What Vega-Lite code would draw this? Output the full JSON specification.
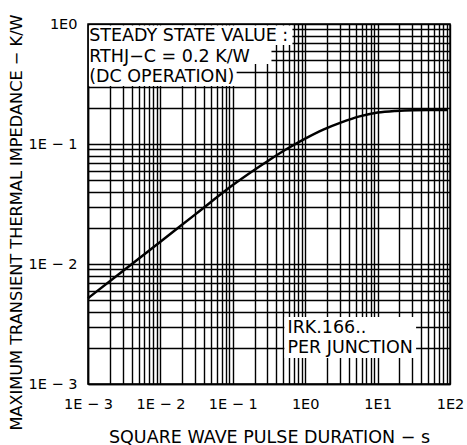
{
  "$schema": "https://vega.github.io/schema/vega-lite/v6.json",
  "width": 362,
  "height": 360,
  "autosize": "none",
  "padding": {"left": 88, "top": 24, "right": 17, "bottom": 61},
  "background": "white",
  "config": {
    "view": {"stroke": "black", "strokeWidth": 1.5},
    "font": "DejaVu Sans",
    "axis": {
      "labelFont": "DejaVu Sans",
      "titleFont": "DejaVu Sans",
      "labelColor": "black",
      "titleColor": "black",
      "titleFontWeight": "normal",
      "ticks": false,
      "domainColor": "black",
      "domainWidth": 1.5,
      "gridColor": "black",
      "gridOpacity": 1,
      "gridWidth": 1.4,
      "labelOverlap": false,
      "labelBound": false,
      "labelFlush": false
    }
  },
  "datasets": {
    "curve": [
      {"x": 0.001, "y": 0.005188},
      {"x": 0.003162, "y": 0.008913},
      {"x": 0.01, "y": 0.01535},
      {"x": 0.03162, "y": 0.02642},
      {"x": 0.1, "y": 0.0455},
      {"x": 0.3162, "y": 0.07328},
      {"x": 0.5623, "y": 0.0912},
      {"x": 1, "y": 0.1109},
      {"x": 1.778, "y": 0.1318},
      {"x": 3.162, "y": 0.1514},
      {"x": 5.623, "y": 0.1698},
      {"x": 10, "y": 0.1828},
      {"x": 17.78, "y": 0.1888},
      {"x": 31.62, "y": 0.1914},
      {"x": 91, "y": 0.1923}
    ],
    "boxes": [
      {"x": 0.00103, "x2": 0.667, "y": 0.97, "y2": 0.668},
      {"x": 0.00103, "x2": 0.342, "y": 0.668, "y2": 0.464},
      {"x": 0.00103, "x2": 0.113, "y": 0.464, "y2": 0.304},
      {"x": 0.516, "x2": 34.0, "y": 0.00361, "y2": 0.00165}
    ],
    "notes": [
      {"x": 0.00104, "y": 0.721, "label": "STEADY STATE VALUE :"},
      {"x": 0.00104, "y": 0.482, "label": "RTHJ−C = 0.2 K/W"},
      {"x": 0.00104, "y": 0.329, "label": "(DC OPERATION)"},
      {"x": 0.569, "y": 0.00266, "label": "IRK.166.."},
      {"x": 0.569, "y": 0.00181, "label": "PER JUNCTION"}
    ]
  },
  "encoding": {
    "x": {
      "field": "x",
      "type": "quantitative",
      "scale": {"type": "log", "domain": [0.001, 100], "nice": false},
      "axis": {
        "title": "SQUARE WAVE PULSE DURATION − s",
        "titleFontSize": 17.5,
        "titleBaseline": "middle",
        "titleY": 53,
        "labelFontSize": 14.5,
        "labelPadding": 13,
        "values": [0.001,0.002,0.003,0.004,0.005,0.006,0.007,0.008,0.009,0.01,0.02,0.03,0.04,0.05,0.06,0.07,0.08,0.09,0.1,0.2,0.3,0.4,0.5,0.6,0.7,0.8,0.9,1,2,3,4,5,6,7,8,9,10,20,30,40,50,60,70,80,90,100],
        "labelExpr": "abs(datum.value / pow(10, round(log(datum.value)/LN10)) - 1) < 0.01 ? (round(log(datum.value)/LN10) < 0 ? '1E − ' + (-round(log(datum.value)/LN10)) : '1E' + round(log(datum.value)/LN10)) : ''"
      }
    },
    "y": {
      "field": "y",
      "type": "quantitative",
      "scale": {"type": "log", "domain": [0.001, 1], "nice": false},
      "axis": {
        "title": "MAXIMUM TRANSIENT THERMAL IMPEDANCE − K/W",
        "titleFontSize": 16.2,
        "titleBaseline": "middle",
        "titleX": -72,
        "titleY": 198,
        "titleAlign": "center",
        "labelFontSize": 14.5,
        "labelPadding": 11,
        "values": [0.001,0.002,0.003,0.004,0.005,0.006,0.007,0.008,0.009,0.01,0.02,0.03,0.04,0.05,0.06,0.07,0.08,0.09,0.1,0.2,0.3,0.4,0.5,0.6,0.7,0.8,0.9,1],
        "labelExpr": "abs(datum.value / pow(10, round(log(datum.value)/LN10)) - 1) < 0.01 ? (round(log(datum.value)/LN10) < 0 ? '1E − ' + (-round(log(datum.value)/LN10)) : '1E' + round(log(datum.value)/LN10)) : ''"
      }
    }
  },
  "layer": [
    {
      "data": {"name": "curve"},
      "mark": {"type": "line", "color": "black", "strokeWidth": 2.5, "interpolate": "monotone"}
    },
    {
      "data": {"name": "boxes"},
      "mark": {"type": "rect", "color": "white", "opacity": 1},
      "encoding": {
        "x2": {"field": "x2"},
        "y2": {"field": "y2"}
      }
    },
    {
      "data": {"name": "notes"},
      "mark": {"type": "text", "align": "left", "baseline": "alphabetic", "font": "DejaVu Sans", "fontSize": 17.5, "color": "black"},
      "encoding": {
        "text": {"field": "label"}
      }
    }
  ]
}
